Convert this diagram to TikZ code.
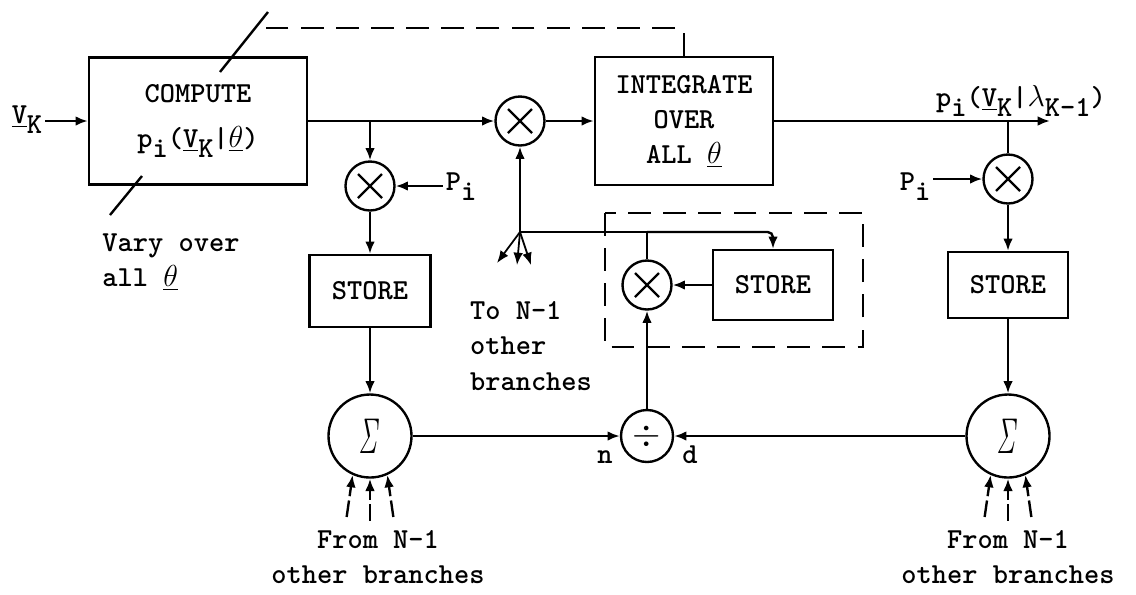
\documentclass[tikz,border=0pt]{standalone}
\usetikzlibrary{
    arrows.meta,
    positioning,
    calc
}

\newcommand{\lowsub}[1]{\raisebox{-0.35em}{#1}}
\newcommand{\sumsign}{\scalebox{0.62}[1.15]{\Huge$\mathit{\Sigma}$}}

\begin{document}
\begin{tikzpicture}[
    font=\ttfamily\bfseries\fontsize{16.5}{20}\selectfont,
    line width=1.35pt,
    block/.style={
        rectangle,
        draw,
        align=center,
        inner sep=0pt
    },
    mult/.style={
        circle,
        draw,
        minimum size=0.98cm,
        inner sep=0pt,
        path picture={
            \draw ([shift={(-0.24,-0.24)}]path picture bounding box.center)
               -- ([shift={(0.24,0.24)}]path picture bounding box.center);
            \draw ([shift={(-0.24,0.24)}]path picture bounding box.center)
               -- ([shift={(0.24,-0.24)}]path picture bounding box.center);
        }
    },
    summer/.style={
        circle,
        draw,
        minimum size=1.66cm,
        inner sep=0pt
    },
    divider/.style={
        circle,
        draw,
        minimum size=1.04cm,
        inner sep=0pt,
        font=\huge
    },
    arrow/.style={
        -{Latex[length=7pt,width=5.5pt]}
    },
    feedback/.style={
        dash pattern=on 13pt off 7pt
    },
    note/.style={
        align=left,
        inner sep=1pt
    }
]
\useasboundingbox (0,0) rectangle (22.72,-11.88);

% =========================================================
% Main objects
% =========================================================
\node[block, minimum width=4.36cm, minimum height=2.54cm] (compute) at (3.96,-2.42) {
COMPUTE\\[6pt]
p\lowsub{i}(\underline{V}\lowsub{K}|\underline{$\theta$})
};

\node[mult] (xmain) at (10.40,-2.42) {};

\node[block, minimum width=3.56cm, minimum height=2.56cm] (integrate) at (13.68,-2.42) {
INTEGRATE\\
OVER\\
ALL \underline{$\theta$}
};

\node[mult] (xleft) at (7.40,-3.72) {};
\node[block, minimum width=2.42cm, minimum height=1.44cm] (storeleft) at (7.40,-5.82) {STORE};
\node[summer] (sumleft) at (7.40,-8.72) {\sumsign};

\node[divider] (divide) at (12.94,-8.72) {$\div$};
\node[mult] (xinner) at (12.94,-5.70) {};
\node[block, minimum width=2.40cm, minimum height=1.40cm] (storeinner) at (15.46,-5.70) {STORE};

\node[mult] (xright) at (20.16,-3.58) {};
\node[block, minimum width=2.40cm, minimum height=1.32cm] (storeright) at (20.16,-5.70) {STORE};
\node[summer] (sumright) at (20.16,-8.72) {\sumsign};

% =========================================================
% Labels
% =========================================================
\node[note] (vk) at (0.54,-2.40) {\underline{V}\lowsub{K}};
\node[note] (pleft) at (9.22,-3.74) {P\lowsub{i}};
\node[note] (pright) at (18.30,-3.74) {P\lowsub{i}};
\node[note] (vary) at (3.42,-5.24) {Vary over\\all \underline{$\theta$}};
\node[note] (toothers) at (10.62,-6.92) {To N-1\\other\\branches};
\node[note, align=center] (fromleft) at (7.56,-11.14) {From N-1\\other branches};
\node[note, align=center] (fromright) at (20.16,-11.14) {From N-1\\other branches};
\node[note] (outlabel) at (20.42,-2.02) {p\lowsub{i}(\underline{V}\lowsub{K}|$\lambda$\lowsub{K-1})};
\node[note] (nlabel) at (12.10,-9.14) {n};
\node[note] (dlabel) at (13.80,-9.10) {d};

% =========================================================
% Main relations
% =========================================================
\coordinate (pout) at (21.00,-2.42);

\draw[arrow] (vk.east |- compute.west) -- (compute.west);
\draw[arrow] (compute.east) -- (xmain.west);
\draw[arrow] (xmain) -- (integrate);
\draw[arrow] (integrate.east) -- (pout);

\draw[arrow] (xleft |- xmain) -- (xleft);
\draw[arrow] (pleft.west |- xleft) -- (xleft);
\draw[arrow] (xleft) -- (storeleft);
\draw[arrow] (storeleft) -- (sumleft);

\draw (xright |- pout) -- (xright);
\draw[arrow] (pright.east |- xright) -- (xright);
\draw[arrow] (xright) -- (storeright);
\draw[arrow] (storeright) -- (sumright);

\draw[arrow] (sumleft) -- (divide);
\draw[arrow] (sumright) -- (divide);
\draw[arrow] (divide) -- (xinner);
\draw[arrow] (storeinner) -- (xinner);

% =========================================================
% Feedback through the inner product
% =========================================================
\coordinate (junction) at (10.40,-4.64);
\draw[arrow] (xinner) -- (xinner |- junction) -- (junction) -- (xmain);
\draw[arrow, rounded corners=3pt] (xinner |- junction) -- (storeinner |- junction) -- (storeinner);

\coordinate (fan1) at (9.94,-5.26);
\coordinate (fan2) at (10.34,-5.30);
\coordinate (fan3) at (10.62,-5.30);
\foreach \f in {fan1,fan2,fan3}
    \draw[arrow, line width=1pt] (junction) -- (\f);

\draw[feedback] (12.10,-4.26) rectangle (17.26,-6.94);

% =========================================================
% Parameter sweep
% =========================================================
\coordinate (tilta) at (4.40,-1.44);
\coordinate (tiltb) at (5.36,-0.24);
\coordinate (tiltx) at (5.10,-0.56);
\draw (tilta) -- (tiltb);
\draw[feedback, rounded corners=2pt] (integrate.north) |- (tiltx);

\coordinate (tiltc) at (2.20,-4.30);
\coordinate (tiltd) at (2.84,-3.52);
\draw (tiltc) -- (tiltd);

% =========================================================
% Inputs from the other branches
% =========================================================
\foreach \s in {sumleft,sumright}{
    \foreach \k/\ang in {1/-114,2/-90,3/-66}{
        \coordinate (\s-in\k) at ($(\s.\ang)+({(\k-2)*0.12},-0.84)$);
        \draw[arrow, dash pattern=on 9.5pt off 2.5pt on 30pt off 0pt] (\s-in\k) -- (\s.\ang);
    }
}

\end{tikzpicture}
\end{document}
